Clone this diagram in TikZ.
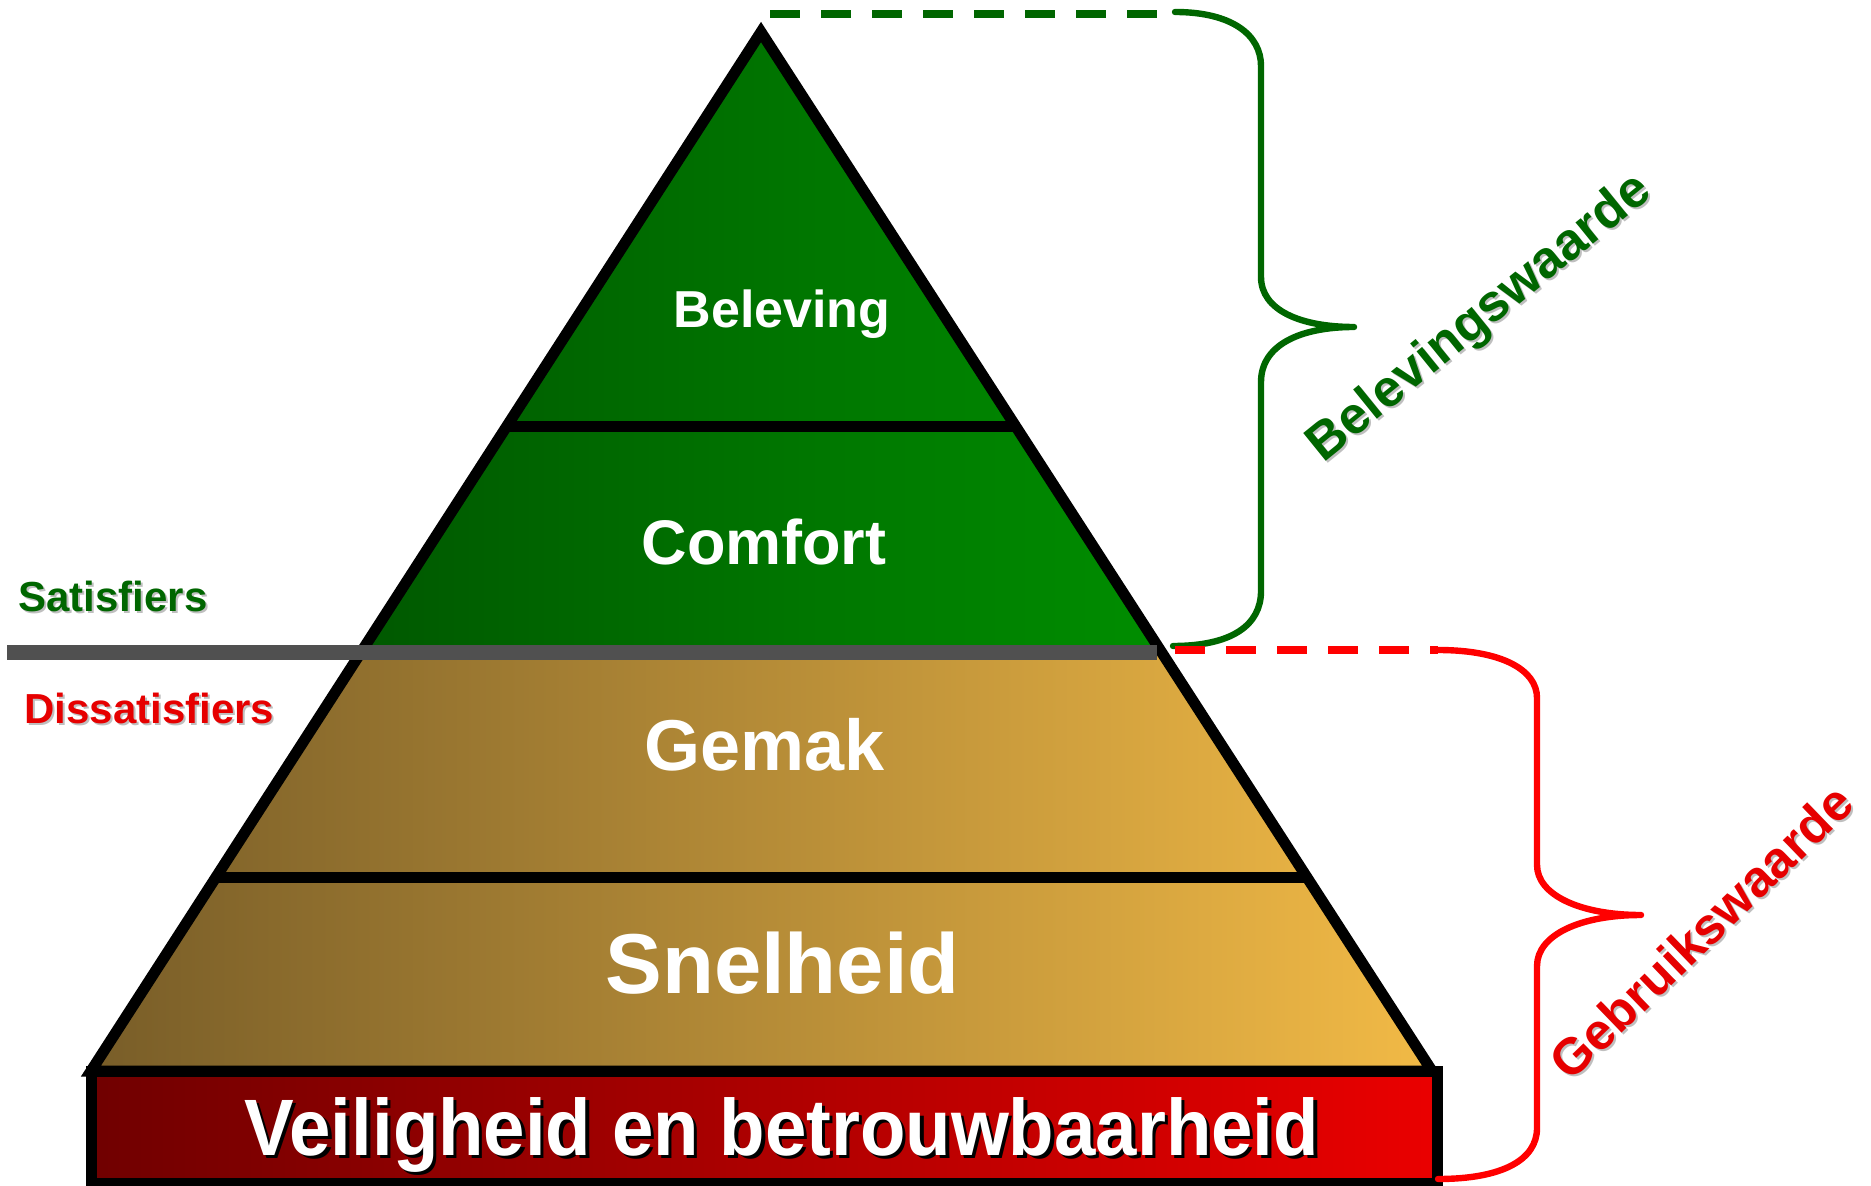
\documentclass[tikz,border=0pt]{standalone}
\usepackage{fontspec}
\setmainfont{Liberation Sans}
\definecolor{gL}{RGB}{0,70,0}
\definecolor{gR}{RGB}{0,160,0}
\definecolor{bL}{RGB}{120,93,40}
\definecolor{bR}{RGB}{242,186,70}
\definecolor{rL}{RGB}{112,0,0}
\definecolor{rR}{RGB}{234,0,0}
\definecolor{txtgreen}{RGB}{0,102,0}
\definecolor{txtred}{RGB}{230,0,0}
\definecolor{bracegreen}{RGB}{0,102,0}
\definecolor{bracered}{RGB}{255,0,0}
\definecolor{divgray}{RGB}{80,80,80}
\begin{document}
\begin{tikzpicture}[x=0.5pt,y=-0.5pt,
  outline/.style={line width=5.5pt, black},
  levellabel/.style={text=white, font=\bfseries, inner sep=0pt, anchor=base},
  sidelabel/.style={font=\bfseries\fontsize{21}{25}\selectfont, inner sep=0pt, anchor=base west},
  rotlabel/.style={font=\bfseries\fontsize{26}{30}\selectfont, inner sep=0pt},
  bracestyle/.style={line width=3.2pt, line cap=round, line join=round},
  dashstyle/.style={line width=3.6pt, dash pattern=on 15pt off 10.5pt}
]
\useasboundingbox (0,0) rectangle (1871,1186);
% fills
\begin{scope}
  \clip (761,32) -- (91,1071) -- (1432,1071) -- cycle;
  \shade[left color=gL, right color=gR] (86,0) rectangle (1437,652);
  \shade[left color=bL, right color=bR] (86,652) rectangle (1437,1071);
\end{scope}
\shade[left color=rL, right color=rR] (91,1071) rectangle (1437,1183);
% outlines
\draw[outline] (761,32) -- (91,1071) -- (1432,1071) -- cycle;
\draw[outline] (506,427) -- (1015,427);
\draw[outline] (217,877) -- (1305,877);
\draw[outline] (91,1071) rectangle (1437,1183);
% satisfiers line
\draw[line width=7.5pt, divgray] (7,652) -- (1157,652);
% level labels
\node[levellabel, font=\bfseries\fontsize{26}{30}\selectfont] (beleving) at (782,328) {Beleving};
\node[levellabel, font=\bfseries\fontsize{31.5}{36}\selectfont] (comfort) at (764,564) {Comfort};
\node[levellabel, font=\bfseries\fontsize{36}{40}\selectfont] (gemak) at (764.5,770) {Gemak};
\node[levellabel, font=\bfseries\fontsize{42.5}{48}\selectfont] (snelheid) at (782.5,993) {Snelheid};
\node[levellabel, text=black, font=\bfseries\fontsize{40}{46}\selectfont, xscale=0.93] (veilshadow) at (785,1158) {Veiligheid en betrouwbaarheid};
\node[levellabel, font=\bfseries\fontsize{40}{46}\selectfont, xscale=0.93] (veiligheid) at (781.5,1155) {Veiligheid en betrouwbaarheid};
% side labels
\node[sidelabel, text=black!25] (satshadow) at (20,613) {Satisfiers};
\node[sidelabel, text=txtgreen] (satisfiers) at (18,611) {Satisfiers};
\node[sidelabel, text=black!25] (disshadow) at (26,725) {Dissatisfiers};
\node[sidelabel, text=txtred] (dissatisfiers) at (24,723) {Dissatisfiers};
% green brace
\draw[dashstyle, bracegreen] (770,14) -- (1175,14);
\draw[bracestyle, bracegreen] (1175,12) .. controls (1232,12) and (1261,35) .. (1261,66) -- (1261,277) .. controls (1261,310) and (1300,327) .. (1354,327) .. controls (1300,327) and (1261,345) .. (1261,382) -- (1261,591) .. controls (1261,625) and (1232,646) .. (1173,646);
% red brace
\draw[dashstyle, bracered] (1175,650) -- (1438,650);
\draw[bracestyle, bracered] (1438,650) .. controls (1502,650) and (1537,670) .. (1537,698) -- (1537,865) .. controls (1537,895) and (1580,915) .. (1641,915) .. controls (1580,915) and (1537,935) .. (1537,966) -- (1537,1128) .. controls (1537,1160) and (1502,1179) .. (1438,1179);
% rotated labels
\node[rotlabel, text=black!25, rotate=39] (belshadow) at (1482,321) {Belevingswaarde};
\node[rotlabel, text=txtgreen, rotate=39] (belevingswaarde) at (1480,319) {Belevingswaarde};
\node[rotlabel, text=black!25, rotate=44, font=\bfseries\fontsize{25.5}{30}\selectfont] (gebshadow) at (1703,934) {Gebruikswaarde};
\node[rotlabel, text=txtred, rotate=44, font=\bfseries\fontsize{25.5}{30}\selectfont] (gebruikswaarde) at (1701,932) {Gebruikswaarde};
\end{tikzpicture}
\end{document}
